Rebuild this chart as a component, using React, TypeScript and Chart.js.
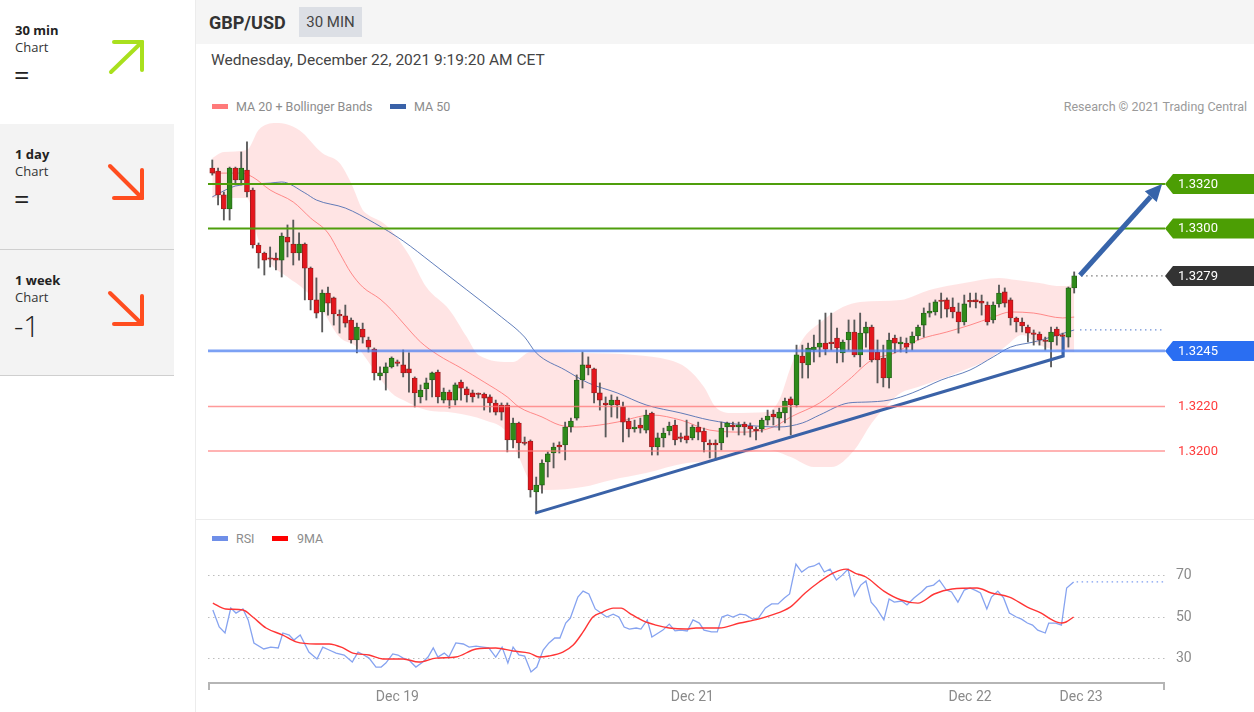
import React, { useEffect, useRef } from "react";
import { Chart, registerables } from "chart.js";

Chart.register(...registerables);
Chart.defaults.font.family = "Roboto, 'Noto Sans', sans-serif";

// ---------------- DATA ----------------
const candleOpen = [
  1.33272, 1.33258, 1.33151, 1.33088, 1.33272, 1.33218, 1.33263, 1.33173, 1.32926, 1.3289,
  1.32867, 1.32867, 1.32858, 1.32962, 1.3293, 1.3289, 1.3293, 1.32822, 1.32679, 1.32625,
  1.3271, 1.32688, 1.32611, 1.32607, 1.32589, 1.32499, 1.32548, 1.32499, 1.32458, 1.32337,
  1.32351, 1.32378, 1.32398, 1.32387, 1.32369, 1.32328, 1.32243, 1.32279, 1.32319, 1.32355,
  1.32229, 1.32265, 1.32229, 1.3231, 1.32279, 1.32261, 1.32256, 1.32256, 1.32243, 1.32216,
  1.32207, 1.32207, 1.3205, 1.32126, 1.32036, 1.32045, 1.31816, 1.31847, 1.31951, 1.31991,
  1.32027, 1.32027, 1.32108, 1.32148, 1.32319, 1.32387, 1.32369, 1.32261, 1.32216, 1.32207,
  1.32229, 1.32198, 1.32135, 1.32099, 1.32117, 1.32094, 1.32171, 1.32018, 1.32059, 1.3209,
  1.32117, 1.32059, 1.32068, 1.32059, 1.32108, 1.3209, 1.32036, 1.32036, 1.32036, 1.32108,
  1.32117, 1.32108, 1.32121, 1.32112, 1.32094, 1.32099, 1.32139, 1.32166, 1.32148, 1.32171,
  1.32234, 1.32207, 1.32427, 1.32387, 1.32454, 1.32467, 1.32485, 1.32485, 1.32508, 1.32441,
  1.32499, 1.32535, 1.32432, 1.3253, 1.32557, 1.32445, 1.32418, 1.32328, 1.32508, 1.32481,
  1.32485, 1.32485, 1.32517, 1.32566, 1.3262, 1.32625, 1.32674, 1.32679, 1.32647, 1.32625,
  1.3258, 1.32674, 1.32679, 1.32674, 1.32656, 1.32589, 1.32661, 1.32715, 1.32679, 1.32598,
  1.3258, 1.32557, 1.32526, 1.32526, 1.32494, 1.3249, 1.32548, 1.32517, 1.32512, 1.32733,
];
const candleHigh = [
  1.33308, 1.33272, 1.33164, 1.33276, 1.33276, 1.33344, 1.33389, 1.33182, 1.32935, 1.32894,
  1.32917, 1.3289, 1.3298, 1.33016, 1.33038, 1.3298, 1.32935, 1.32827, 1.32778, 1.32724,
  1.32737, 1.32692, 1.32634, 1.32656, 1.32598, 1.32575, 1.32575, 1.32512, 1.32463, 1.32378,
  1.32396, 1.32423, 1.32409, 1.32454, 1.32441, 1.32333, 1.32297, 1.32328, 1.32355, 1.32364,
  1.32283, 1.32274, 1.32306, 1.32319, 1.32288, 1.32274, 1.32261, 1.32261, 1.32252, 1.32229,
  1.32216, 1.32216, 1.32148, 1.3213, 1.32063, 1.3205, 1.31883, 1.3196, 1.31996, 1.32036,
  1.32041, 1.3213, 1.32148, 1.32342, 1.32445, 1.32423, 1.32373, 1.32306, 1.32243, 1.32252,
  1.32243, 1.3222, 1.32148, 1.32139, 1.32148, 1.32184, 1.32175, 1.32081, 1.32103, 1.3213,
  1.32139, 1.32081, 1.32139, 1.32117, 1.3213, 1.32103, 1.3205, 1.3205, 1.3213, 1.3213,
  1.3213, 1.3213, 1.3213, 1.32126, 1.32108, 1.32148, 1.32184, 1.32184, 1.32193, 1.32238,
  1.32243, 1.32476, 1.32476, 1.32485, 1.32521, 1.32589, 1.3262, 1.3262, 1.32553, 1.32499,
  1.32589, 1.32589, 1.3262, 1.3258, 1.32566, 1.32499, 1.32476, 1.3253, 1.32521, 1.32512,
  1.32508, 1.32535, 1.32566, 1.32643, 1.32665, 1.32679, 1.3271, 1.32688, 1.32688, 1.32665,
  1.32701, 1.3271, 1.3271, 1.32701, 1.3267, 1.3267, 1.32746, 1.32733, 1.32688, 1.32602,
  1.32598, 1.32566, 1.32544, 1.32535, 1.32512, 1.32557, 1.32557, 1.3253, 1.32737, 1.32805,
];
const candleLow = [
  1.3324, 1.33106, 1.33038, 1.33038, 1.33196, 1.33196, 1.33142, 1.32912, 1.32822, 1.32791,
  1.32827, 1.32814, 1.32782, 1.32872, 1.32836, 1.32858, 1.32679, 1.32634, 1.32598, 1.32535,
  1.32611, 1.32566, 1.3253, 1.32557, 1.32485, 1.32441, 1.32485, 1.32445, 1.32319, 1.32319,
  1.32274, 1.32373, 1.32382, 1.32333, 1.32265, 1.32198, 1.32216, 1.32229, 1.32243, 1.32216,
  1.32216, 1.32193, 1.32207, 1.32229, 1.3222, 1.3222, 1.32238, 1.32184, 1.32175, 1.32162,
  1.32139, 1.31996, 1.32014, 1.31969, 1.32027, 1.31793, 1.31726, 1.31811, 1.31883, 1.31924,
  1.31991, 1.3196, 1.32085, 1.32139, 1.32283, 1.32342, 1.32216, 1.32184, 1.32063, 1.32153,
  1.32148, 1.32041, 1.32063, 1.32085, 1.32081, 1.32081, 1.31982, 1.31982, 1.32018, 1.32072,
  1.32027, 1.32041, 1.32036, 1.3205, 1.3205, 1.31996, 1.31969, 1.3196, 1.32005, 1.32063,
  1.32094, 1.32072, 1.32072, 1.32063, 1.3205, 1.32085, 1.32117, 1.32117, 1.32094, 1.32126,
  1.32072, 1.32198, 1.32328, 1.32328, 1.324, 1.32423, 1.32432, 1.32454, 1.32396, 1.324,
  1.32454, 1.32423, 1.32378, 1.32467, 1.324, 1.32306, 1.32288, 1.32283, 1.32441, 1.32445,
  1.32441, 1.32454, 1.32499, 1.32512, 1.32602, 1.32611, 1.32598, 1.32602, 1.32598, 1.3253,
  1.32566, 1.32647, 1.32643, 1.32611, 1.32566, 1.32575, 1.32647, 1.32647, 1.32566, 1.32535,
  1.32535, 1.3249, 1.32476, 1.32476, 1.32454, 1.32378, 1.32476, 1.32432, 1.32467, 1.3271,
];
const candleClose = [
  1.33249, 1.33151, 1.33088, 1.33272, 1.33218, 1.33272, 1.33164, 1.32926, 1.3289, 1.32858,
  1.32862, 1.32858, 1.32966, 1.32939, 1.3289, 1.3293, 1.32822, 1.32679, 1.3262, 1.3271,
  1.32665, 1.32616, 1.32607, 1.32575, 1.32499, 1.32557, 1.32512, 1.32467, 1.32351, 1.32351,
  1.32378, 1.32418, 1.32394, 1.32351, 1.32351, 1.32261, 1.32274, 1.32306, 1.32351, 1.32243,
  1.32265, 1.32229, 1.32297, 1.32283, 1.32252, 1.32243, 1.32254, 1.32238, 1.32216, 1.32175,
  1.32175, 1.3205, 1.32126, 1.32036, 1.32034, 1.31825, 1.31847, 1.31946, 1.31987, 1.32018,
  1.32018, 1.32108, 1.32135, 1.32319, 1.32387, 1.32373, 1.32261, 1.32229, 1.32207, 1.32229,
  1.32207, 1.3213, 1.32099, 1.32108, 1.32103, 1.32162, 1.32018, 1.32059, 1.32081, 1.32112,
  1.3205, 1.32057, 1.3205, 1.32108, 1.32085, 1.32041, 1.32027, 1.32027, 1.32103, 1.32126,
  1.32108, 1.32117, 1.32108, 1.32099, 1.32092, 1.32139, 1.32157, 1.32153, 1.32175, 1.32225,
  1.32207, 1.32432, 1.32396, 1.32463, 1.32467, 1.32485, 1.32458, 1.32483, 1.32463, 1.3249,
  1.32535, 1.32432, 1.3253, 1.32557, 1.32409, 1.32409, 1.32328, 1.32499, 1.32485, 1.3249,
  1.32467, 1.32517, 1.32557, 1.3262, 1.32629, 1.3267, 1.32672, 1.32638, 1.32625, 1.3258,
  1.32661, 1.3267, 1.3267, 1.32665, 1.3258, 1.32656, 1.3271, 1.32665, 1.32598, 1.3258,
  1.32562, 1.3253, 1.32524, 1.32499, 1.32492, 1.32535, 1.32517, 1.32515, 1.32733, 1.32787,
];

// Bollinger bands (MA 20 +/- 2 sd), sampled along the bar index
const upperBandIdx = [0, 2, 6, 8, 11, 15, 19, 22, 24, 26, 27, 30, 34, 37, 41, 44, 46, 52, 55, 64, 73, 79, 82, 85, 87, 90, 96, 98, 100, 102, 105, 109, 112, 119, 124, 128, 130, 136, 139, 143, 146, 148, 149];
const upperBandVal = [1.33317, 1.33344, 1.33353, 1.33443, 1.33474, 1.33443, 1.33339, 1.33294, 1.33204, 1.33083, 1.33061, 1.33016, 1.32881, 1.32737, 1.32634, 1.32512, 1.32432, 1.324, 1.32445, 1.32441, 1.32432, 1.32409, 1.32373, 1.32288, 1.32198, 1.32171, 1.32175, 1.32229, 1.32378, 1.32499, 1.32575, 1.32647, 1.3267, 1.32679, 1.32724, 1.32746, 1.32755, 1.32778, 1.32769, 1.32755, 1.32742, 1.32742, 1.32769];
const lowerBandIdx = [0, 6, 8, 10, 13, 16, 19, 22, 25, 28, 31, 33, 37, 42, 47, 51, 53, 55, 58, 64, 69, 75, 82, 87, 92, 96, 100, 104, 107, 111, 114, 117, 119, 122, 127, 130, 134, 137, 140, 143, 146, 149];
const lowerBandVal = [1.33137, 1.33137, 1.32948, 1.32845, 1.32782, 1.32724, 1.32634, 1.32512, 1.32467, 1.32364, 1.32261, 1.32229, 1.32184, 1.32171, 1.32139, 1.32081, 1.31973, 1.31861, 1.31825, 1.31838, 1.3187, 1.31901, 1.31946, 1.31955, 1.31991, 1.32005, 1.31973, 1.31928, 1.31928, 1.32005, 1.32126, 1.32216, 1.32261, 1.32288, 1.32333, 1.32364, 1.32409, 1.32467, 1.32521, 1.32476, 1.32454, 1.32445];
const ma20Idx = [0, 5, 7, 10, 14, 17, 20, 22, 24, 26, 29, 31, 33, 36, 39, 43, 47, 51, 53, 57, 60, 63, 67, 70, 76, 81, 86, 92, 97, 100, 105, 110, 114, 118, 122, 127, 131, 135, 138, 142, 147, 149];
const ma20Val = [1.33249, 1.33249, 1.33231, 1.33173, 1.33119, 1.33047, 1.3298, 1.3289, 1.328, 1.32737, 1.32683, 1.32634, 1.32575, 1.3249, 1.32432, 1.32373, 1.3231, 1.32243, 1.32198, 1.32153, 1.32117, 1.32108, 1.32117, 1.3213, 1.32162, 1.32139, 1.32094, 1.32085, 1.32108, 1.32153, 1.32216, 1.32319, 1.32409, 1.32441, 1.32499, 1.32535, 1.32566, 1.32602, 1.32625, 1.3262, 1.32598, 1.32602];
const ma50Idx = [0, 4, 10, 12, 16, 18, 23, 28, 33, 38, 44, 50, 54, 56, 61, 65, 70, 75, 81, 86, 92, 98, 102, 105, 110, 113, 117, 121, 126, 131, 135, 138, 142, 145, 149];
const ma50Val = [1.33142, 1.33191, 1.33204, 1.33209, 1.3316, 1.33128, 1.33092, 1.33025, 1.32944, 1.32845, 1.32724, 1.32602, 1.32512, 1.32441, 1.32364, 1.32306, 1.32261, 1.32207, 1.32171, 1.32139, 1.32117, 1.32108, 1.32126, 1.32162, 1.32216, 1.3222, 1.32229, 1.32261, 1.32319, 1.32364, 1.32423, 1.32467, 1.3249, 1.32512, 1.32544];

// Analyst drawings
const trendIdx = [55.8, 147.1, 147.1];
const trendVal = [1.31721, 1.32427, 1.32512];
const arrowIdx = [150, 164.2];
const arrowVal = [1.3279, 1.332];
const levelValues = [1.332, 1.33, 1.3245, 1.322, 1.32];
const levelKinds = ["target", "target", "pivot", "support", "support"];

// RSI panel
const rsiIdx = [0.1, 1.2, 2.2, 3.2, 4.1, 5.3, 6.2, 7.2, 8.9, 10.1, 11.4, 12.2, 13.3, 14.1, 15.2, 16.7, 18.1, 19.1, 20.2, 21.4, 22.8, 24.2, 25.2, 26.2, 27.1, 28.3, 29.2, 30.0, 31.2, 32.1, 33.0, 34.0, 35.2, 36.4, 37.3, 38.2, 39.0, 40.1, 40.9, 42.1, 43.4, 44.4, 45.6, 46.8, 47.8, 49.0, 50.1, 51.1, 52.0, 53.0, 54.0, 55.1, 56.1, 57.2, 58.2, 59.2, 60.1, 61.1, 61.9, 63.2, 64.1, 65.1, 66.2, 67.2, 68.2, 69.3, 70.3, 71.2, 72.1, 73.3, 74.1, 75.2, 76.0, 77.1, 77.9, 79.0, 80.0, 81.0, 82.1, 83.1, 84.2, 85.0, 86.3, 87.3, 88.1, 89.1, 90.0, 91.2, 92.2, 93.4, 94.4, 95.6, 96.7, 97.8, 98.9, 99.8, 100.9, 101.9, 103.1, 104.0, 104.9, 105.8, 106.8, 107.9, 108.9, 109.9, 111.0, 112.1, 113.0, 113.9, 114.8, 116.1, 117.0, 117.9, 119.2, 120.1, 121.3, 122.6, 123.5, 124.7, 125.7, 126.9, 127.8, 128.9, 130.0, 131.0, 132.2, 132.8, 133.9, 134.7, 135.8, 136.8, 137.8, 139.0, 139.9, 140.9, 141.8, 142.7, 144.0, 144.6, 145.8, 146.8, 147.7, 148.9];
const rsiVal = [53.4, 45.2, 42.3, 54.3, 51.9, 53.9, 48.6, 37.5, 34.6, 35.5, 35.1, 42.3, 41.3, 38.9, 41.3, 33.1, 29.8, 35.5, 34.1, 32.6, 31.7, 28.3, 33.1, 31.7, 30.2, 25.9, 25.9, 27.8, 32.2, 31.7, 30.2, 29.3, 25.9, 28.3, 30.7, 35.1, 30.7, 32.6, 30.7, 37.5, 37.0, 35.5, 36.0, 35.5, 35.1, 30.7, 35.5, 27.8, 35.5, 31.7, 31.2, 23.5, 25.9, 34.1, 37.5, 39.9, 39.9, 47.1, 49.5, 59.6, 62.5, 61.1, 53.9, 51.9, 50.0, 51.4, 50.0, 45.2, 44.2, 44.7, 44.2, 48.6, 40.4, 42.3, 43.7, 46.6, 43.3, 43.7, 43.3, 48.6, 47.1, 43.7, 42.8, 42.8, 50.0, 51.0, 50.0, 51.4, 51.0, 49.0, 49.5, 54.3, 56.3, 56.3, 59.2, 61.1, 75.5, 71.7, 74.1, 74.6, 76.0, 71.7, 73.1, 67.8, 70.2, 73.1, 60.1, 65.4, 67.4, 57.2, 54.3, 48.6, 58.7, 57.2, 57.7, 55.8, 59.2, 62.1, 64.5, 65.4, 67.8, 63.0, 62.1, 57.2, 63.0, 64.0, 62.5, 61.6, 53.9, 59.6, 62.5, 59.2, 51.9, 50.0, 49.0, 47.1, 46.1, 43.7, 42.3, 47.1, 47.1, 46.1, 64.0, 66.9];
const rsiMaIdx = [0.1, 2.3, 5.3, 7.0, 9.3, 12.2, 14.5, 17.9, 20.2, 22.6, 24.3, 27.1, 29.5, 33.0, 35.7, 38.7, 42.1, 45.6, 49.0, 52.0, 54.8, 56.5, 58.2, 60.6, 62.4, 64.1, 65.8, 67.5, 69.3, 70.7, 72.1, 74.5, 76.7, 79.0, 81.9, 83.6, 87.6, 91.2, 94.4, 96.8, 99.9, 102.5, 104.9, 107.3, 109.6, 111.1, 113.0, 116.1, 119.1, 122.0, 124.8, 127.9, 132.2, 134.7, 137.8, 140.9, 143.3, 145.2, 146.8, 147.6, 148.9];
const rsiMaVal = [56.7, 53.9, 53.4, 50.0, 44.7, 41.3, 38.0, 37.0, 37.0, 35.1, 32.6, 31.7, 29.8, 29.8, 28.3, 30.2, 30.7, 34.6, 35.1, 33.6, 32.6, 30.7, 31.2, 33.1, 36.5, 42.8, 50.0, 52.4, 54.3, 54.3, 51.9, 48.1, 46.1, 44.7, 44.2, 44.7, 44.7, 47.1, 49.0, 51.0, 54.8, 61.6, 66.9, 71.2, 73.1, 71.2, 69.3, 62.5, 58.2, 56.7, 61.1, 63.5, 64.0, 61.6, 59.6, 54.8, 51.9, 48.6, 47.1, 47.6, 50.0];
const rsiTicks = [30, 50, 70];
const dateTickIdx = [32, 83, 131, 150.2];
const dateTickLabels = ["Dec 19", "Dec 21", "Dec 22", "Dec 23"];

// axis ranges
const X_MIN = -0.74;
const X_MAX = 164.7;
const PRICE_MIN = 1.317125;
const PRICE_MAX = 1.334876;
const RSI_MIN = 18.2;
const RSI_MAX = 79.9;

// ---------------- helpers ----------------
const pts = (xs: number[], ys: number[]) => xs.map((x, k) => ({ x, y: ys[k] }));

function drawTag(ctx: CanvasRenderingContext2D, x0: number, y: number, text: string, bg: string) {
  const h = 20;
  ctx.beginPath();
  ctx.moveTo(x0, y);
  ctx.lineTo(x0 + 8, y - h / 2);
  ctx.lineTo(x0 + 95, y - h / 2);
  ctx.lineTo(x0 + 95, y + h / 2);
  ctx.lineTo(x0 + 8, y + h / 2);
  ctx.closePath();
  ctx.fillStyle = bg;
  ctx.fill();
  ctx.fillStyle = "#ffffff";
  ctx.font = "13px Roboto, sans-serif";
  ctx.textBaseline = "middle";
  ctx.textAlign = "left";
  ctx.fillText(text, x0 + 13, y + 0.5);
}

const priceOverlay = {
  id: "priceOverlay",
  afterDatasetsDraw(chart: any) {
    const { ctx, chartArea: a, scales } = chart;
    const xs = scales.x;
    const ys = scales.y;
    ctx.save();
    // horizontal levels
    levelValues.forEach((v, k) => {
      const py = ys.getPixelForValue(v);
      const kind = levelKinds[k];
      ctx.beginPath();
      ctx.moveTo(a.left, py);
      ctx.lineTo(a.right, py);
      if (kind === "target") {
        ctx.strokeStyle = "#4f9e0c";
        ctx.lineWidth = 2.2;
      } else if (kind === "pivot") {
        ctx.strokeStyle = "rgba(80,130,240,0.75)";
        ctx.lineWidth = 2.6;
      } else {
        ctx.strokeStyle = "rgba(255,120,120,0.75)";
        ctx.lineWidth = 1.4;
      }
      ctx.stroke();
    });
    // dotted extensions of last close and MA 50
    const lastClose = candleClose[candleClose.length - 1];
    const lastMa50 = ma50Val[ma50Val.length - 1];
    ctx.setLineDash([1.5, 3.5]);
    ctx.lineWidth = 1.2;
    ctx.strokeStyle = "#777";
    ctx.beginPath();
    ctx.moveTo(xs.getPixelForValue(candleClose.length + 0.2), ys.getPixelForValue(lastClose));
    ctx.lineTo(a.right, ys.getPixelForValue(lastClose));
    ctx.stroke();
    ctx.strokeStyle = "#6d8fd6";
    ctx.beginPath();
    ctx.moveTo(xs.getPixelForValue(candleClose.length), ys.getPixelForValue(lastMa50));
    ctx.lineTo(a.right, ys.getPixelForValue(lastMa50));
    ctx.stroke();
    ctx.setLineDash([]);
    // arrow
    const ax0 = xs.getPixelForValue(arrowIdx[0]);
    const ay0 = ys.getPixelForValue(arrowVal[0]);
    const ax1 = xs.getPixelForValue(arrowIdx[1]);
    const ay1 = ys.getPixelForValue(arrowVal[1]);
    const ang = Math.atan2(ay1 - ay0, ax1 - ax0);
    const headLen = 17;
    const headW = 8;
    const bx = ax1 - headLen * Math.cos(ang);
    const by = ay1 - headLen * Math.sin(ang);
    ctx.strokeStyle = "#3764aa";
    ctx.fillStyle = "#3764aa";
    ctx.lineWidth = 5;
    ctx.lineCap = "butt";
    ctx.beginPath();
    ctx.moveTo(ax0, ay0);
    ctx.lineTo(bx, by);
    ctx.stroke();
    ctx.beginPath();
    ctx.moveTo(ax1, ay1);
    ctx.lineTo(bx + headW * Math.sin(ang), by - headW * Math.cos(ang));
    ctx.lineTo(bx - headW * Math.sin(ang), by + headW * Math.cos(ang));
    ctx.closePath();
    ctx.fill();
    // price tags
    levelValues.forEach((v, k) => {
      const py = ys.getPixelForValue(v);
      const kind = levelKinds[k];
      const text = v.toFixed(4);
      if (kind === "target") drawTag(ctx, a.right, py, text, "#4c9e04");
      else if (kind === "pivot") drawTag(ctx, a.right, py, text, "#2a6ef2");
      else {
        ctx.fillStyle = "#ff3b3b";
        ctx.font = "13px Roboto, sans-serif";
        ctx.textBaseline = "middle";
        ctx.textAlign = "left";
        ctx.fillText(text, a.right + 13, py + 0.5);
      }
    });
    drawTag(ctx, a.right, ys.getPixelForValue(lastClose), lastClose.toFixed(4), "#333333");
    ctx.restore();
  },
};

const rsiOverlay = {
  id: "rsiOverlay",
  afterDraw(chart: any) {
    const { ctx, chartArea: a, scales } = chart;
    const xs = scales.x;
    const ys = scales.y;
    ctx.save();
    const lastRsi = rsiVal[rsiVal.length - 1];
    const lastX = rsiIdx[rsiIdx.length - 1];
    ctx.setLineDash([1.5, 3.5]);
    ctx.strokeStyle = "#7f9ef0";
    ctx.lineWidth = 1.3;
    ctx.beginPath();
    ctx.moveTo(xs.getPixelForValue(lastX) + 3, ys.getPixelForValue(lastRsi));
    ctx.lineTo(a.right, ys.getPixelForValue(lastRsi));
    ctx.stroke();
    ctx.setLineDash([]);
    // bottom axis with end ticks
    ctx.strokeStyle = "#b5b5b5";
    ctx.lineWidth = 2;
    ctx.beginPath();
    ctx.moveTo(a.left + 1, a.bottom + 7);
    ctx.lineTo(a.left + 1, a.bottom);
    ctx.lineTo(a.right - 1, a.bottom);
    ctx.lineTo(a.right - 1, a.bottom + 7);
    ctx.stroke();
    ctx.restore();
  },
};

function PriceChart() {
  const ref = useRef<HTMLCanvasElement>(null);
  useEffect(() => {
    const idx = candleOpen.map((_, i) => i);
    const up = idx.map((i) => candleClose[i] >= candleOpen[i]);
    const chart = new Chart(ref.current as HTMLCanvasElement, {
      type: "bar",
      data: {
        datasets: [
          {
            type: "line",
            data: pts(upperBandIdx, upperBandVal),
            borderWidth: 0,
            borderColor: "rgba(0,0,0,0)",
            pointRadius: 0,
            cubicInterpolationMode: "monotone",
            fill: false,
            order: 20,
          } as any,
          {
            type: "line",
            data: pts(lowerBandIdx, lowerBandVal),
            borderWidth: 0,
            borderColor: "rgba(0,0,0,0)",
            backgroundColor: "rgba(255,205,205,0.55)",
            pointRadius: 0,
            cubicInterpolationMode: "monotone",
            fill: "-1",
            order: 19,
          } as any,
          {
            type: "line",
            data: pts(ma20Idx, ma20Val),
            borderColor: "rgba(255,120,120,0.85)",
            borderWidth: 1,
            pointRadius: 0,
            cubicInterpolationMode: "monotone",
            fill: false,
            order: 8,
          } as any,
          {
            type: "line",
            data: pts(ma50Idx, ma50Val),
            borderColor: "rgba(70,105,175,0.85)",
            borderWidth: 1,
            pointRadius: 0,
            cubicInterpolationMode: "monotone",
            fill: false,
            order: 7,
          } as any,
          {
            type: "bar",
            data: idx.map((i) => ({ x: i, y: [candleLow[i], candleHigh[i]] })),
            backgroundColor: "#5a5a5a",
            barThickness: 1.2,
            grouped: false,
            order: 5,
          } as any,
          {
            type: "bar",
            data: idx.map((i) => ({ x: i, y: [candleOpen[i], candleClose[i]] })),
            backgroundColor: idx.map((i) => (up[i] ? "#2f8a1a" : "#e4161d")),
            borderColor: idx.map((i) => (up[i] ? "#235f16" : "#8e2020")),
            borderWidth: 0.8,
            borderSkipped: false,
            barThickness: 5,
            minBarLength: 1.5,
            grouped: false,
            order: 4,
          } as any,
          {
            type: "line",
            data: pts(trendIdx, trendVal),
            borderColor: "#3a62a7",
            borderWidth: 3,
            pointRadius: 0,
            tension: 0,
            fill: false,
            order: 1,
          } as any,
        ],
      },
      options: {
        responsive: false,
        animation: false,
        events: [],
        layout: { padding: { left: 0, right: 89, top: 0, bottom: 0 } },
        plugins: { legend: { display: false }, tooltip: { enabled: false } },
        scales: {
          x: { type: "linear", min: X_MIN, max: X_MAX, display: false, offset: false },
          y: { type: "linear", min: PRICE_MIN, max: PRICE_MAX, display: false },
        },
      } as any,
      plugins: [priceOverlay],
    });
    return () => chart.destroy();
  }, []);
  return (
    <canvas
      ref={ref}
      width={1046}
      height={395}
      style={{ position: "absolute", left: 208, top: 120, width: 1046, height: 395 }}
    />
  );
}

function RsiChart() {
  const ref = useRef<HTMLCanvasElement>(null);
  useEffect(() => {
    const chart = new Chart(ref.current as HTMLCanvasElement, {
      type: "line",
      data: {
        datasets: [
          {
            data: pts(rsiIdx, rsiVal),
            borderColor: "#86a3f0",
            borderWidth: 1.3,
            pointRadius: 0,
            tension: 0,
            fill: false,
            order: 2,
          },
          {
            data: pts(rsiMaIdx, rsiMaVal),
            borderColor: "#ff3535",
            borderWidth: 1.4,
            pointRadius: 0,
            cubicInterpolationMode: "monotone",
            fill: false,
            order: 1,
          },
        ],
      },
      options: {
        responsive: false,
        animation: false,
        events: [],
        layout: { padding: 0 },
        plugins: { legend: { display: false }, tooltip: { enabled: false } },
        scales: {
          x: {
            type: "linear",
            min: X_MIN,
            max: X_MAX,
            offset: false,
            grid: { display: false, drawTicks: false },
            border: { display: false },
            ticks: {
              color: "#8a8a8a",
              font: { size: 14 },
              padding: 6,
              maxRotation: 0,
              autoSkip: false,
              callback: (_v: any, i: number) => dateTickLabels[i],
            },
            afterBuildTicks: (s: any) => {
              s.ticks = dateTickIdx.map((v) => ({ value: v }));
            },
            afterFit: (s: any) => {
              s.height = 29;
              s.paddingLeft = 0;
              s.paddingRight = 0;
            },
          },
          y: {
            type: "linear",
            position: "right",
            min: RSI_MIN,
            max: RSI_MAX,
            grid: { color: "#bdbdbd", drawTicks: false, lineWidth: 1 },
            border: { display: false, dash: [1.5, 3.5] },
            ticks: { color: "#8a8a8a", font: { size: 14 }, padding: 11, callback: (v: any) => String(v) },
            afterBuildTicks: (s: any) => {
              s.ticks = rsiTicks.map((v) => ({ value: v }));
            },
            afterFit: (s: any) => {
              s.width = 89;
              s.paddingTop = 0;
              s.paddingBottom = 0;
            },
          },
        },
      } as any,
      plugins: [rsiOverlay],
    });
    return () => chart.destroy();
  }, []);
  return (
    <canvas
      ref={ref}
      width={1046}
      height={157}
      style={{ position: "absolute", left: 208, top: 555, width: 1046, height: 157 }}
    />
  );
}

const abs = (o: React.CSSProperties): React.CSSProperties => ({ position: "absolute", whiteSpace: "nowrap", ...o });

function Sidebar() {
  const side = "'Open Sans', 'Noto Sans', sans-serif";
  const panels = [
    { top: 0, title: "30 min", val: "=", bg: "#ffffff" },
    { top: 124, title: "1 day", val: "=", bg: "#f3f3f3" },
    { top: 250, title: "1 week", val: "-1", bg: "#f3f3f3" },
  ];
  return (
    <>
      {panels.map((p, k) => (
        <div key={k} style={abs({ left: 0, top: p.top, width: 174, height: 125, background: p.bg, borderBottom: k > 0 ? "1px solid #cfcfcf" : "none", fontFamily: side })}>
          <div style={abs({ left: 15, top: 22, fontSize: 13, fontWeight: 700, color: "#222", lineHeight: "16px" })}>{p.title}</div>
          <div style={abs({ left: 15, top: 39, fontSize: 13, color: "#333", lineHeight: "16px" })}>Chart</div>
          {k === 2 ? (
            <div style={abs({ left: 14, top: 60, fontSize: 29, fontWeight: 300, color: "#222", lineHeight: "32px" })}>{p.val}</div>
          ) : (
            <div style={abs({ left: 14, top: 60, fontSize: 27, fontWeight: 400, color: "#222", lineHeight: "30px" })}>{p.val}</div>
          )}
        </div>
      ))}
      <svg width={174} height={376} style={abs({ left: 0, top: 0 })}>
        <g stroke="#a9e01d" strokeWidth={4} strokeLinecap="round" fill="none">
          <line x1={111} y1={72} x2={142} y2={42} />
          <line x1={114} y1={42} x2={142} y2={42} />
          <line x1={142} y1={42} x2={142} y2={70} />
        </g>
        <g stroke="#ff4d1f" strokeWidth={4} strokeLinecap="round" fill="none">
          <line x1={110} y1={166} x2={142} y2={198} />
          <line x1={114} y1={198} x2={142} y2={198} />
          <line x1={142} y1={170} x2={142} y2={198} />
          <line x1={110} y1={293} x2={142} y2={324} />
          <line x1={114} y1={324} x2={142} y2={324} />
          <line x1={142} y1={296} x2={142} y2={324} />
        </g>
      </svg>
    </>
  );
}

export default function App() {
  const font = "Roboto, 'Noto Sans', sans-serif";
  return (
    <div style={{ position: "fixed", left: 0, top: 0, width: 1254, height: 712, background: "#fff", overflow: "hidden", fontFamily: font }}>
      <Sidebar />
      <div style={abs({ left: 195, top: 0, width: 1, height: 712, background: "#ececec" })} />
      <div style={abs({ left: 196, top: 0, width: 1058, height: 44, background: "#f5f5f5" })} />
      <div style={abs({ left: 209, top: 12, fontSize: 18, fontWeight: 700, color: "#333", lineHeight: "21px" })}>GBP/USD</div>
      <div style={abs({ left: 299, top: 7, width: 63, height: 30, background: "#dcdfe5", color: "#444", fontSize: 15, lineHeight: "30px", textAlign: "center" })}>30 MIN</div>
      <div style={abs({ left: 211, top: 51, fontSize: 15.5, color: "#444", lineHeight: "18px" })}>Wednesday, December 22, 2021 9:19:20 AM CET</div>

      <div style={abs({ left: 212, top: 104, width: 16, height: 5, background: "#ff7a7a" })} />
      <div style={abs({ left: 236, top: 99, fontSize: 12.5, color: "#8c8c8c", lineHeight: "15px" })}>MA 20 + Bollinger Bands</div>
      <div style={abs({ left: 390, top: 104, width: 16, height: 5, background: "#3a62a8" })} />
      <div style={abs({ left: 414, top: 99, fontSize: 12.5, color: "#8c8c8c", lineHeight: "15px" })}>MA 50</div>
      <div style={abs({ right: 7, top: 99, fontSize: 12.5, color: "#9a9a9a", lineHeight: "15px" })}>Research © 2021 Trading Central</div>

      <PriceChart />

      <div style={abs({ left: 196, top: 519, width: 1058, height: 1, background: "#ececec" })} />
      <div style={abs({ left: 212, top: 536, width: 16, height: 5, background: "#6f8fe8" })} />
      <div style={abs({ left: 236, top: 531, fontSize: 12.5, color: "#8c8c8c", lineHeight: "15px" })}>RSI</div>
      <div style={abs({ left: 272, top: 536, width: 16, height: 5, background: "#ff0000" })} />
      <div style={abs({ left: 297, top: 531, fontSize: 12.5, color: "#8c8c8c", lineHeight: "15px" })}>9MA</div>

      <RsiChart />
    </div>
  );
}
